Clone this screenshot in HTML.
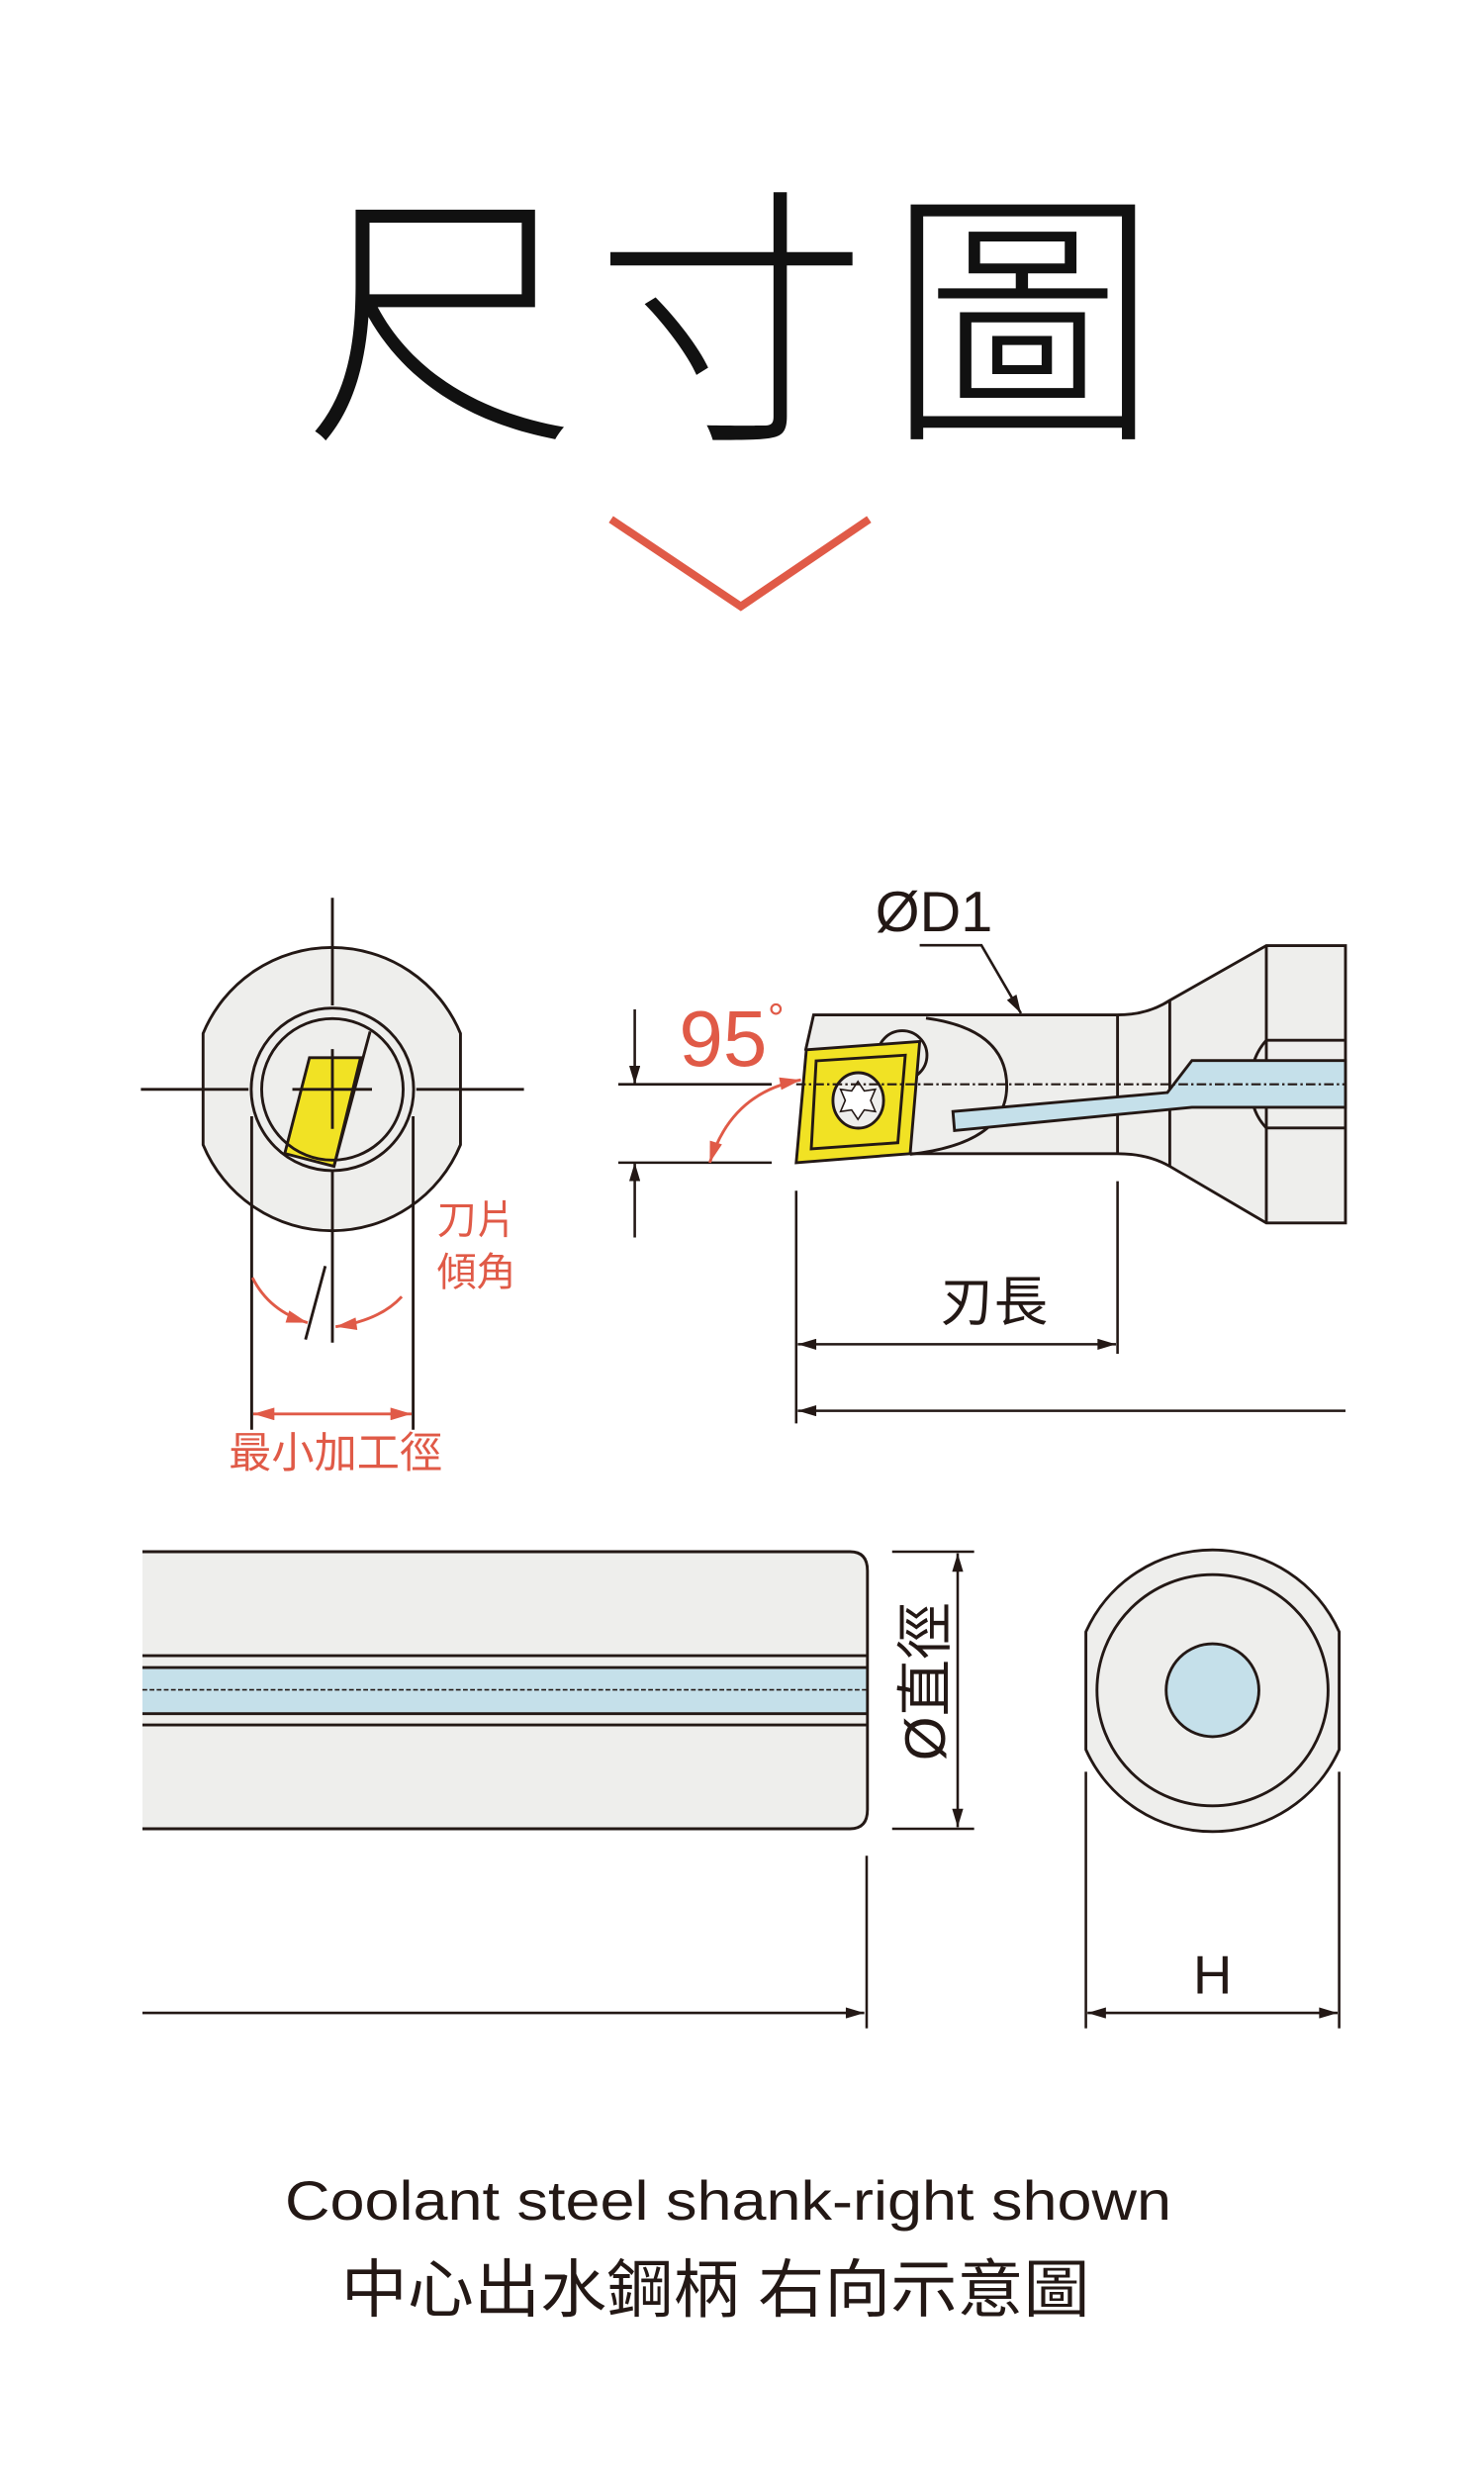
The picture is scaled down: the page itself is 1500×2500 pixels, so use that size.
<!DOCTYPE html>
<html><head><meta charset="utf-8"><style>
html,body{margin:0;padding:0;background:#fff;}
svg{display:block;}
text{font-family:"Liberation Sans","Noto Sans CJK TC",sans-serif;}
</style></head><body>
<svg width="1500" height="2500" viewBox="0 0 937.5 1562.5" preserveAspectRatio="none" xmlns="http://www.w3.org/2000/svg">
<defs>
<marker id="ab" viewBox="0 0 10 6" refX="10" refY="3" markerWidth="13" markerHeight="7" markerUnits="userSpaceOnUse" orient="auto-start-reverse"><path d="M0,0 L10,3 L0,6 Z" fill="#231815"/></marker>
<marker id="ar" viewBox="0 0 10 6" refX="10" refY="3" markerWidth="14" markerHeight="8" markerUnits="userSpaceOnUse" orient="auto-start-reverse"><path d="M0,0 L10,3 L0,6 Z" fill="#e05a47"/></marker>
</defs>

<!-- Title -->
<text x="468" y="265" font-size="172" text-anchor="middle" font-family="'Noto Sans CJK TC',sans-serif" font-weight="300" letter-spacing="12" fill="#111">尺寸圖</text>
<polyline points="386,328 468,383 549,328" fill="none" stroke="#e05a47" stroke-width="5"/>

<g stroke="#231815" stroke-width="1.8" fill="none">
<!-- Left end view -->
<path d="M128.3,652.7 A88,88 0 0 1 290.9,652.7 L290.9,723 A88,88 0 0 1 128.3,723 Z" fill="#eeeeec"/>
<circle cx="210" cy="688" r="51.3" fill="#eeeeec"/>
<polygon points="195.5,668 227.8,668 211,736.6 179.9,728.5" fill="#f1e224" stroke="#231815"/>
<circle cx="210" cy="688" r="44.7"/>
<line x1="233.8" y1="651.5" x2="211" y2="736.6"/>
<line x1="89" y1="688" x2="157" y2="688"/>
<line x1="263" y1="688" x2="331" y2="688"/>
<line x1="184.7" y1="688" x2="235" y2="688"/>
<line x1="210" y1="567" x2="210" y2="635"/>
<line x1="210" y1="662.6" x2="210" y2="713"/>
<line x1="210" y1="740" x2="210" y2="848"/>
<line x1="159" y1="705" x2="159" y2="903"/>
<line x1="261" y1="705" x2="261" y2="903"/>
<line x1="205.5" y1="799.6" x2="193" y2="846"/>
</g>
<g stroke="#e05a47" stroke-width="1.8" fill="none">
<path d="M159.5,807 Q170,828 194.3,835.4" marker-end="url(#ar)"/>
<path d="M253.8,818.9 Q240,834 212,837.9" marker-end="url(#ar)"/>
<line x1="160" y1="893" x2="260" y2="893" marker-start="url(#ar)" marker-end="url(#ar)"/>
</g>
<g fill="#e05a47" font-family="'Noto Sans CJK TC',sans-serif">
<text x="212" y="927" font-size="27" text-anchor="middle">最小加工徑</text>
<text x="276" y="779" font-size="25">刀片</text>
<text x="276" y="812" font-size="25">傾角</text>
</g>

<!-- Side view -->
<g stroke="#231815" stroke-width="1.8">
<path d="M514,641 L706,641 Q725,641 739,631.8 L800,597.2 L850,597.2 L850,772.4 L800,772.4 L739,736.6 Q725,728.6 706,728.6 L575,728.6 L509,663 Z" fill="#eeeeec"/>
<line x1="706" y1="641" x2="706" y2="728.6"/>
<line x1="739" y1="631.8" x2="739" y2="736.6"/>
<line x1="800" y1="597.2" x2="800" y2="772.4"/>
<path d="M800,657 L850,657 M800,712.4 L850,712.4 M800,657 Q790,668 790,685 Q790,702 800,712.4" fill="none"/>
<path d="M585,643 Q636,650 636,686 Q636,722 575,729" fill="none"/>
<ellipse cx="570" cy="666.5" rx="15.6" ry="15.5" fill="#eeeeec"/>
<path d="M602,702 L737.5,690 L753,669.8 L850,669.8 L850,699.3 L753,699.3 L603,714 Z" fill="#c5e0ea"/>
<polygon points="509.4,663 581,657.8 575,728.6 503,734.3" fill="#f1e224"/>
<polygon points="515.6,670 571.9,666.4 567.2,721.7 512.5,725.6" fill="none"/>
<ellipse cx="542.2" cy="695" rx="16" ry="17.5" fill="#eeeeec"/>
<path d="M542,683 L546,689 L553,688 L550,695 L553,702 L546,701 L542,707 L538,701 L531,702 L534,695 L531,688 L538,689 Z" fill="#fff" stroke-width="1"/>
</g>
<line x1="503" y1="684.8" x2="850" y2="684.8" stroke="#231815" stroke-width="1.3" stroke-dasharray="6,2,1.5,2"/>
<g stroke="#231815" stroke-width="1.6" fill="none">
<polyline points="581,597 620,597 645,640" marker-end="url(#ab)"/>
<line x1="390.6" y1="684.8" x2="487.5" y2="684.8"/>
<line x1="390.6" y1="734.3" x2="487.5" y2="734.3"/>
<line x1="401" y1="637.5" x2="401" y2="684.8" marker-end="url(#ab)"/>
<line x1="401" y1="781.6" x2="401" y2="734.3" marker-end="url(#ab)"/>
<line x1="503" y1="752" x2="503" y2="899"/>
<line x1="706" y1="746" x2="706" y2="855"/>
<line x1="504" y1="849" x2="705" y2="849" marker-start="url(#ab)" marker-end="url(#ab)"/>
<line x1="850" y1="891" x2="504" y2="891" marker-end="url(#ab)"/>
</g>
<path d="M506,682 Q462,690 448.4,734.3" stroke="#e05a47" stroke-width="1.8" fill="none" marker-start="url(#ar)" marker-end="url(#ar)"/>
<text x="553" y="588" font-size="36" fill="#231815">ØD1</text>
<text x="429" y="673" font-size="50" fill="#e05a47">95</text>
<text x="485" y="652" font-size="26" fill="#e05a47">°</text>
<text x="628" y="834" font-size="34" text-anchor="middle" fill="#231815" font-family="'Noto Sans CJK TC',sans-serif">刃長</text>

<!-- Bottom left view -->
<g stroke="#231815" stroke-width="1.8">
<path d="M90,980 L537,980 Q548,980 548,992 L548,1143 Q548,1155 537,1155 L90,1155 Z" fill="#eeeeec" stroke="none"/>
<rect x="90" y="1053.2" width="458" height="29" fill="#c5e0ea" stroke="none"/>
<path d="M90,980 L537,980 Q548,980 548,992 L548,1143 Q548,1155 537,1155 L90,1155" fill="none"/>
<line x1="90" y1="1045.7" x2="548" y2="1045.7"/>
<line x1="90" y1="1053.2" x2="548" y2="1053.2"/>
<line x1="90" y1="1082.3" x2="548" y2="1082.3"/>
<line x1="90" y1="1089.4" x2="548" y2="1089.4"/>
<line x1="90" y1="1067.2" x2="548" y2="1067.2" stroke-width="1" stroke-dasharray="3,1.5"/>
</g>
<g stroke="#231815" stroke-width="1.6" fill="none">
<line x1="563.6" y1="980" x2="615.4" y2="980"/>
<line x1="563.6" y1="1155" x2="615.4" y2="1155"/>
<line x1="605" y1="981" x2="605" y2="1154" marker-start="url(#ab)" marker-end="url(#ab)"/>
<line x1="547.5" y1="1172" x2="547.5" y2="1281"/>
<line x1="90" y1="1271.3" x2="546" y2="1271.3" marker-end="url(#ab)"/>
<line x1="686" y1="1119" x2="686" y2="1281"/>
<line x1="846" y1="1119" x2="846" y2="1281"/>
<line x1="687" y1="1271.3" x2="845" y2="1271.3" marker-start="url(#ab)" marker-end="url(#ab)"/>
</g>
<text transform="translate(597,1062) rotate(-90)" font-size="36" text-anchor="middle" fill="#231815" font-family="'Liberation Sans','Noto Sans CJK TC',sans-serif">Ø直徑</text>

<!-- End view -->
<g stroke="#231815" stroke-width="1.8">
<path d="M686,1030.6 A87.7,87.7 0 0 1 846,1030.6 L846,1105 A87.7,87.7 0 0 1 686,1105 Z" fill="#eeeeec"/>
<circle cx="766" cy="1067.5" r="73" fill="none"/>
<circle cx="766" cy="1067.5" r="29.3" fill="#c5e0ea"/>
</g>
<text x="766" y="1259" font-size="34" text-anchor="middle" fill="#231815">H</text>

<!-- Footer -->
<text x="460" y="1402" font-size="35" text-anchor="middle" textLength="560" lengthAdjust="spacingAndGlyphs" fill="#231815">Coolant steel shank-right shown</text>
<text x="452" y="1460" font-size="40" text-anchor="middle" textLength="473" lengthAdjust="spacingAndGlyphs" fill="#231815" font-family="'Noto Sans CJK TC',sans-serif">中心出水鋼柄 右向示意圖</text>
</svg>
</body></html>
